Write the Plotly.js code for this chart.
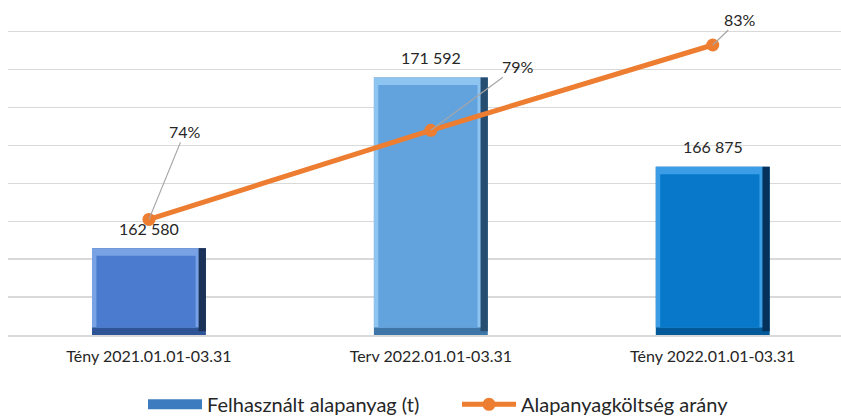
<!DOCTYPE html>
<html>
<head>
<meta charset="utf-8">
<script src="https://cdn.plot.ly/plotly-3.0.1.min.js"></script>
<style>html,body{margin:0;padding:0;background:#fff;}#chart{width:841px;height:418px;}</style>
</head>
<body>
<div id="chart"></div>
<script>
// ---- data ----
const categories = ["Tény 2021.01.01-03.31", "Terv 2022.01.01-03.31", "Tény 2022.01.01-03.31"];
const usedMaterial = [162580, 171592, 166875];       // Felhasznált alapanyag (t)
const costRatio = [0.741, 0.788, 0.833];             // Alapanyagköltség arány
const barSeriesName = "Felhasznált alapanyag (t)";
const lineSeriesName = "Alapanyagköltség arány";

// ---- styles ----
const mainColors   = ["#4A7BCF", "#62A3DE", "#0878CA"];
const lightColors  = ["#79A2E4", "#8EC4F0", "#3A9DE6"];
const bottomColors = ["#2F5495", "#3E76A8", "#045A98"];
const darkColors   = ["#1A3158", "#274E70", "#04325A"];
const lineColor = "#ED7D31";
const yMin = 158000, yMax = 174000, yPad = 250;
const y2Min = 0.68, y2Max = 0.84;
const y2Pad = (y2Max - y2Min) * yPad / (yMax - yMin);
const barW = 0.404, bevX = 0.026, bevY = 400;
const pctOffsets = [[36, -88], [87, -64], [27, -26]];
const font = "Lato, 'Open Sans', sans-serif";
const txt = "#262626";

function fmt(v){ return String(Math.round(v)).replace(/\B(?=(\d{3})+(?!\d))/g, " "); }

const traces = [];
// bevel layers (all derived from usedMaterial)
traces.push({type:"bar", x:categories, y:usedMaterial.map(v=>v-yMin), base:usedMaterial.map(()=>yMin),
  width:barW, offset:-barW/2, marker:{color:bottomColors}, showlegend:false, hoverinfo:"skip"});
traces.push({type:"bar", x:categories, y:usedMaterial.map(v=>v-yMin-bevY*0.5), base:usedMaterial.map(()=>yMin+bevY*0.5),
  width:bevX, offset:barW/2-bevX, marker:{color:darkColors}, showlegend:false, hoverinfo:"skip"});
traces.push({type:"bar", x:categories, y:usedMaterial.map(v=>v-yMin-bevY), base:usedMaterial.map(()=>yMin+bevY),
  width:barW-bevX, offset:-barW/2, marker:{color:lightColors}, showlegend:false, hoverinfo:"skip"});
traces.push({type:"bar", x:categories, y:usedMaterial.map(v=>v-yMin-2*bevY), base:usedMaterial.map(()=>yMin+bevY),
  width:barW-2*bevX, offset:-barW/2+bevX*0.6, marker:{color:mainColors}, name:barSeriesName, showlegend:false});
// legend proxy for bar series
traces.push({type:"scatter", mode:"lines", x:[null], y:[null], name:barSeriesName,
  line:{color:"#3E7CC0", width:10}, showlegend:true, hoverinfo:"skip"});
// line series
traces.push({type:"scatter", mode:"lines+markers", x:categories, y:costRatio, yaxis:"y2", name:lineSeriesName,
  line:{color:lineColor, width:5}, marker:{color:lineColor, size:13}});

const annotations = [];
categories.forEach((c,i)=>{
  annotations.push({x:c, y:usedMaterial[i], xref:"x", yref:"y", text:fmt(usedMaterial[i]), showarrow:false,
    yshift:20, font:{family:font, size:16, color:txt}});
  annotations.push({x:c, y:costRatio[i], xref:"x", yref:"y2", text:Math.round(costRatio[i]*100)+"%",
    showarrow:true, arrowhead:0, arrowwidth:1.2, arrowcolor:"#A6A6A6", ax:pctOffsets[i][0], ay:pctOffsets[i][1],
    standoff:0, font:{family:font, size:16, color:txt}});
});

const layout = {
  width:841, height:418,
  margin:{l:8, r:0, t:27, b:83, autoexpand:false},
  paper_bgcolor:"#fff", plot_bgcolor:"#fff",
  barmode:"overlay",
  font:{family:font, size:16, color:txt},
  xaxis:{type:"category", range:[-0.5, 2.455], showgrid:false, showline:true, linecolor:"#D9D9D9", linewidth:2,
    ticks:"", ticklabelstandoff:6, tickfont:{family:font, size:16, color:txt}, fixedrange:true},
  yaxis:{range:[yMin, yMax + yPad], dtick:2000, tick0:yMin, showticklabels:false, showgrid:true, gridcolor:"#D9D9D9",
    gridwidth:1.5, zeroline:false, ticks:""},
  yaxis2:{range:[y2Min, y2Max + y2Pad], overlaying:"y", side:"right", showgrid:false, showticklabels:false, zeroline:false, ticks:""},
  legend:{orientation:"h", x:(143-8)/833, xanchor:"left", y:-0.225, yanchor:"middle", font:{family:font, size:20, color:txt},
    itemwidth:54, entrywidth:245, entrywidthmode:"pixels", traceorder:"normal"},
  annotations:annotations,
  showlegend:true
};

Plotly.newPlot("chart", traces, layout, {displayModeBar:false, staticPlot:true});
</script>
</body>
</html>
